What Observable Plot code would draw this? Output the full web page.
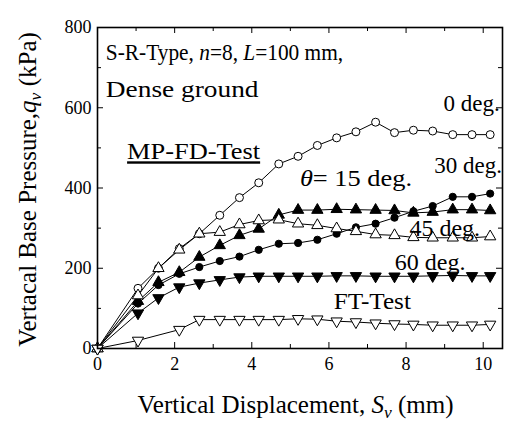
<!DOCTYPE html>
<html><head><meta charset="utf-8">
<script src="https://cdn.jsdelivr.net/npm/d3@7"></script>
<script src="https://cdn.jsdelivr.net/npm/@observablehq/plot@0.6"></script>
<style>body{margin:0;background:#fff;} svg{overflow:visible}</style>
</head><body><div id="chart"></div>
<script>
// Vertical displacement S_v (mm)
const disp = [0, 1.05, 1.58, 2.12, 2.64, 3.17, 3.68, 4.18, 4.7, 5.2, 5.7, 6.2, 6.7, 7.21, 7.7, 8.19, 8.69, 9.21, 9.71, 10.18];
const dispFT = [0, 1.05, 2.12, 2.64, 3.17, 3.68, 4.18, 4.7, 5.2, 5.7, 6.2, 6.7, 7.21, 7.7, 8.19, 8.69, 9.21, 9.71, 10.18];
// Vertical base pressure q_v (kPa)
const q0deg  = [0, 150, 200, 249, 286, 332, 376, 413, 460, 479, 506, 525, 540, 564, 538, 544, 542, 533, 533, 533];
const q15deg = [0, 118, 165, 190, 228, 257, 282, 298, 333, 345, 345, 347, 346, 345, 344, 338, 340, 346, 346, 344];
const q30deg = [0, 112, 158, 186, 203, 218, 229, 246, 261, 263, 271, 286, 302, 311, 326, 342, 355, 378, 378, 386];
const q45deg = [0, 132, 200, 246, 286, 290, 309, 319, 321, 311, 307, 299, 292, 284, 282, 277, 276, 276, 276, 279];
const q60deg = [0, 88, 126, 153, 163, 171, 178, 180, 180, 180, 180, 181, 181, 180, 180, 180, 181, 182, 181, 181];
const qFT    = [0, 20, 47, 72, 72, 72, 72, 72, 74, 73, 68, 66, 63, 61, 60, 58, 58, 58, 60];
// Axis ticks
const xMajor = [0, 2, 4, 6, 8, 10];
const xMinor = [1, 3, 5, 7, 9];
const yMajor = [0, 200, 400, 600, 800];
const yMinor = [100, 300, 500, 700];

const sqrt3 = Math.sqrt(3);
const triangleDown = {draw(ctx, size) {
  const y = -Math.sqrt(size / (sqrt3 * 3));
  ctx.moveTo(0, -y * 2); ctx.lineTo(-sqrt3 * y, y); ctx.lineTo(sqrt3 * y, y); ctx.closePath();
}};

const series = [
  {x: disp, q: q0deg, symbol: "circle", fill: "white", r: 4},
  {x: disp, q: q15deg, symbol: "triangle", fill: "black", r: 4.2},
  {x: disp, q: q30deg, symbol: "circle", fill: "black", r: 3.6},
  {x: disp, q: q45deg, symbol: "triangle", fill: "white", r: 4.2},
  {x: disp, q: q60deg, symbol: triangleDown, fill: "black", r: 4.2},
  {x: dispFT, q: qFT, symbol: triangleDown, fill: "white", r: 4.2}
];

const W = 520, H = 421, mL = 97, mR = 18, mT = 27, mB = 73;
const iw = W - mL - mR, ih = H - mT - mB;

const marks = [];
for (const s of series) {
  const pts = s.x.map((x, i) => ({x, q: s.q[i]}));
  marks.push(Plot.line(pts, {x: "x", y: "q", stroke: "black", strokeWidth: 1}));
}
for (const s of series) {
  const pts = s.x.map((x, i) => ({x, q: s.q[i]}));
  marks.push(Plot.dot(pts, {x: "x", y: "q", symbol: s.symbol, r: s.r, fill: s.fill, stroke: "black", strokeWidth: 1}));
}
marks.push(
  Plot.ruleX(xMajor, {x: d => d, insetTop: ih - 6, stroke: "black"}),
  Plot.ruleX(xMajor, {x: d => d, insetBottom: ih - 6, stroke: "black"}),
  Plot.ruleX(xMinor, {x: d => d, insetTop: ih - 4, stroke: "black"}),
  Plot.ruleX(xMinor, {x: d => d, insetBottom: ih - 4, stroke: "black"}),
  Plot.ruleY(yMajor, {y: d => d, insetRight: iw - 6, stroke: "black"}),
  Plot.ruleY(yMajor, {y: d => d, insetLeft: iw - 6, stroke: "black"}),
  Plot.ruleY(yMinor, {y: d => d, insetRight: iw - 4, stroke: "black"}),
  Plot.ruleY(yMinor, {y: d => d, insetLeft: iw - 4, stroke: "black"}),
  Plot.frame({stroke: "black", strokeWidth: 1.6}),
  Plot.axisX(xMajor, {tickSize: 0, tickPadding: 9, fontSize: 18, label: null}),
  Plot.axisY(yMajor, {tickSize: 0, tickPadding: 6, fontSize: 18, label: null})
);

const plot = Plot.plot({
  width: W, height: H,
  marginLeft: mL, marginRight: mR, marginTop: mT, marginBottom: mB,
  style: {fontFamily: "'Liberation Serif', serif", color: "black", background: "white"},
  x: {domain: [0, 10.5]},
  y: {domain: [0, 800]},
  marks
});
document.getElementById("chart").appendChild(plot);

const sx = plot.scale("x"), sy = plot.scale("y");
const svg = d3.select(plot);
const serif = "'Liberation Serif', serif";

function addText(parts, x, y, size, opts = {}) {
  const k = opts.stretch || 1;
  let tf = `translate(${x},${y})`;
  if (opts.rotate) tf += " rotate(-90)";
  if (k !== 1) tf += ` scale(${k},1)`;
  const t = svg.append("text").attr("transform", tf)
    .attr("font-family", serif).attr("font-size", size).attr("fill", "black")
    .attr("text-anchor", opts.anchor || "start");
  if (opts.underline) t.attr("text-decoration", "underline");
  for (const p of parts) {
    const ts = t.append("tspan").text(p.t);
    if (p.i) ts.attr("font-style", "italic");
    if (p.sub) ts.attr("font-size", size * 0.7).attr("baseline-shift", "-25%");
  }
  return t;
}

// Annotations (data coordinates)
addText([{t: "S-R-Type, "}, {t: "n", i: 1}, {t: "=8, "}, {t: "L", i: 1}, {t: "=100 mm,"}], sx.apply(0.23), sy.apply(717), 24, {stretch: 0.89});
addText([{t: "Dense ground"}], sx.apply(0.23), sy.apply(625), 24, {stretch: 1.14});
addText([{t: "MP-FD-Test"}], sx.apply(0.78), sy.apply(470), 24, {underline: true, stretch: 1.1});
addText([{t: "θ", i: 1}, {t: "= 15 deg."}], sx.apply(5.26), sy.apply(403), 24, {stretch: 1.1});
addText([{t: "0 deg."}], sx.apply(10.44), sy.apply(590), 23, {anchor: "end"});
addText([{t: "30 deg."}], sx.apply(10.5), sy.apply(435), 23, {anchor: "end"});
addText([{t: "45 deg."}], sx.apply(8.1), sy.apply(279), 24);
addText([{t: "60 deg."}], sx.apply(7.72), sy.apply(195), 24);
addText([{t: "FT-Test"}], sx.apply(6.14), sy.apply(98), 24, {stretch: 1.05});

// Axis titles
addText([{t: "Vertical Displacement, "}, {t: "S", i: 1}, {t: "v", i: 1, sub: 1}, {t: " (mm)"}], mL + iw / 2 - 4, 413, 25, {anchor: "middle"});
addText([{t: "Vertacal Base Pressure,"}, {t: "q", i: 1}, {t: "v", i: 1, sub: 1}, {t: " (kPa)"}], 36, mT + ih / 2 + 2, 25, {anchor: "middle", rotate: true});
</script>
</body></html>
